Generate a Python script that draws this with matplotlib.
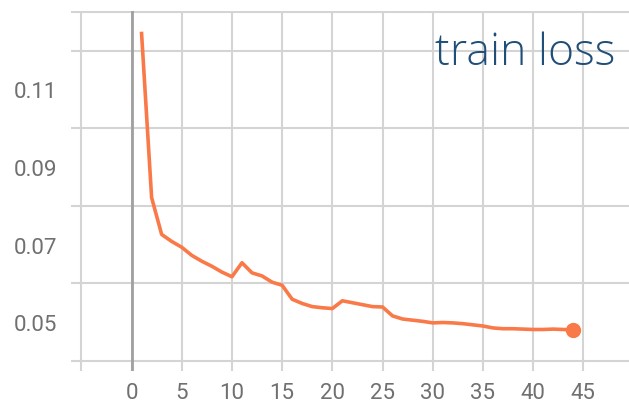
import matplotlib
matplotlib.use("Agg")
import matplotlib.pyplot as plt
from matplotlib.ticker import FixedLocator

# train loss per step
steps = list(range(1, 45))
loss = [0.1244, 0.0821, 0.0726, 0.0708, 0.0693, 0.0672, 0.0657, 0.0644, 0.0629, 0.0617,
        0.0653, 0.0627, 0.0619, 0.0603, 0.0595, 0.0559, 0.0548, 0.0540, 0.0537, 0.0535,
        0.0555, 0.0550, 0.0545, 0.0540, 0.0539, 0.0516, 0.0508, 0.0505, 0.0502, 0.0498,
        0.0499, 0.0498, 0.0496, 0.0493, 0.0490, 0.0485, 0.0483, 0.0483, 0.0482, 0.0481,
        0.0481, 0.0482, 0.0481, 0.0480]

x_ticks = [-5, 0, 5, 10, 15, 20, 25, 30, 35, 40, 45]
x_labels = ['', '0', '5', '10', '15', '20', '25', '30', '35', '40', '45']
y_grid = [0.04, 0.05, 0.06, 0.07, 0.08, 0.09, 0.10, 0.11, 0.12, 0.13]
y_ticks = [0.05, 0.07, 0.09, 0.11]
y_labels = ['0.05', '0.07', '0.09', '0.11']

lineColor = '#f97a48'
gridColor = '#d4d4d4'
textColor = '#707070'

fig = plt.figure(figsize=(6.29, 4.06), dpi=100)
ax = fig.add_axes([71 / 629, 34 / 406, 558 / 629, 360 / 406])

ax.plot(steps, loss, color=lineColor, lw=2.6, solid_joinstyle='round', zorder=3)
ax.plot(steps[-1:], loss[-1:], 'o', color=lineColor, ms=10, zorder=4)
ax.axvline(0, ymin=0, ymax=1, color='#a0a0a0', lw=2, zorder=2)

ax.set_xlim(-6.03, 49.55)
ax.set_ylim(0.0374, 0.1302)

ax.set_xticks(x_ticks)
ax.set_xticklabels(x_labels)
ax.set_yticks(y_ticks)
ax.set_yticklabels(y_labels)
ax.yaxis.set_minor_locator(FixedLocator(y_grid))

ax.grid(True, which='major', axis='x', color=gridColor, lw=1.5)
ax.grid(True, which='minor', axis='y', color=gridColor, lw=1.5)
ax.set_axisbelow(True)

for s in ax.spines.values():
    s.set_visible(False)
ax.tick_params(which='both', length=0)
ax.tick_params(axis='x', pad=8, labelsize=16, labelcolor=textColor)
ax.tick_params(axis='y', pad=10, labelsize=16, labelcolor=textColor)
for lab in ax.get_xticklabels() + ax.get_yticklabels():
    lab.set_fontfamily('Roboto')

fig.text(615 / 629, 1 - 65 / 406, 'train loss', ha='right', va='baseline',
         fontsize=32, color='#1f4e79', family='Open Sans', fontweight='light')

fig.savefig('out.png', dpi=100)
